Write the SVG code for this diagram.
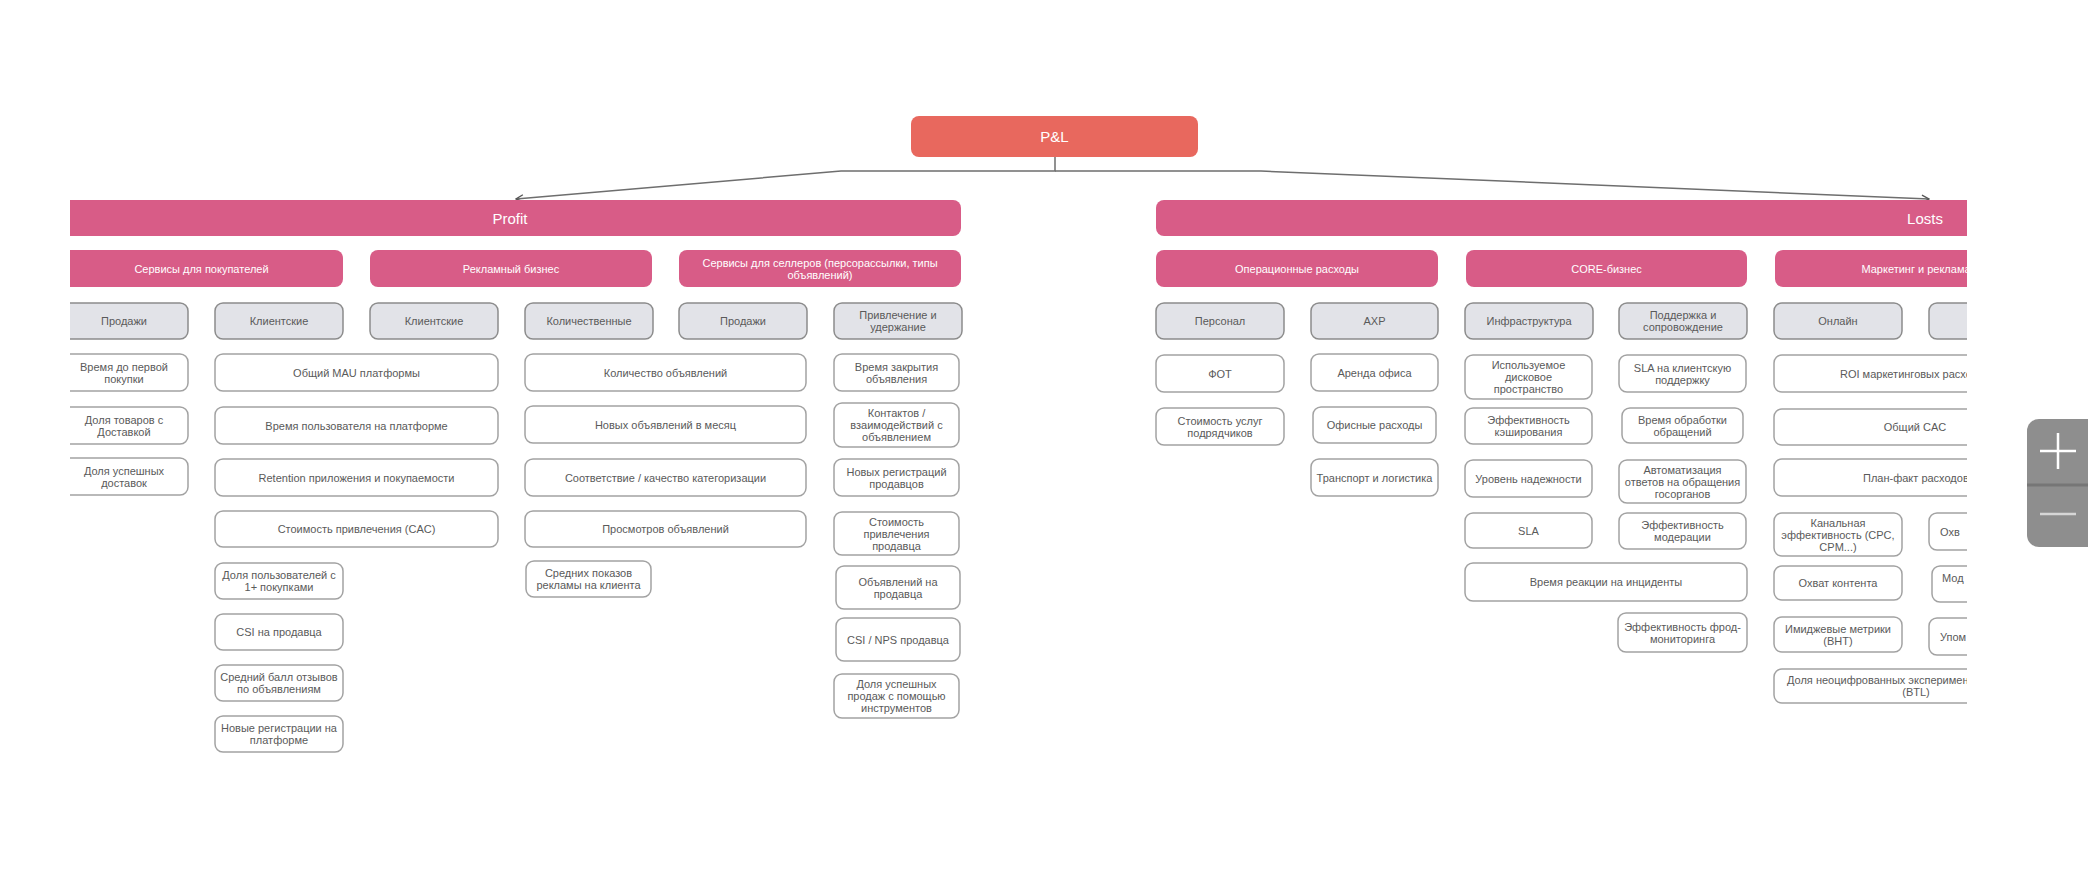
<svg xmlns="http://www.w3.org/2000/svg" width="2088" height="890" viewBox="0 0 2088 890">
  <defs>
    <style>
      .pl { fill: #E8685E; }
      .hdr { fill: #D85C87; }
      .cat { fill: #E2E3E8; stroke: #8C8C8C; stroke-width: 1.5; }
      .box { fill: #FFFFFF; stroke: #A2A2A2; stroke-width: 1.5; }
      text { font-family: "Liberation Sans", Arial, sans-serif; font-size: 11px; fill: #5A5A5A; text-anchor: middle; dominant-baseline: central; }
      .w { fill: #FFFFFF; }
      .big { font-size: 15px; }
      .s { text-anchor: start; }
      .link { fill: none; stroke: #6E6E6E; stroke-width: 1.5; }
    </style>
    <marker id="chev" viewBox="0 0 10 10" refX="9" refY="5" markerWidth="9" markerHeight="9" markerUnits="userSpaceOnUse" orient="auto">
      <path d="M1,1 L9,5 L1,9" fill="none" stroke="#555" stroke-width="1.5"/>
    </marker>
    <clipPath id="view">
      <rect x="70" y="0" width="1897" height="890"/>
    </clipPath>
  </defs>
  <rect width="2088" height="890" fill="#FFFFFF"/>

  <g clip-path="url(#view)">
    <!-- connectors -->
    <g id="connectors">
      <path class="link" d="M1055,157 V171 H841 L516,199" marker-end="url(#chev)"/>
      <path class="link" d="M1055,171 H1261 L1929,199" marker-end="url(#chev)"/>
    </g>

    <!-- root -->
    <g id="pl"><rect class="pl" x="911" y="116" width="287" height="41" rx="8"/><text class="w big" x="1054.5" y="136.5">P&amp;L</text></g>
    <g id="profit"><rect class="hdr" x="40" y="200" width="921" height="36" rx="8"/><text class="w big" x="510" y="218">Profit</text></g>
    <g id="losts"><rect class="hdr" x="1156" y="200" width="1000" height="36" rx="8"/><text class="w big" x="1925" y="218">Losts</text></g>

    <!-- section headers -->
    <g id="s-buyers"><rect class="hdr" x="40" y="250" width="303" height="37" rx="8"/><text class="w" x="201.5" y="268.5">Сервисы для покупателей</text></g>
    <g id="s-ads"><rect class="hdr" x="370" y="250" width="282" height="37" rx="8"/><text class="w" x="511" y="268.5">Рекламный бизнес</text></g>
    <g id="s-sellers"><rect class="hdr" x="679" y="250" width="282" height="37" rx="8"/><text class="w"><tspan x="820" y="262.5">Сервисы для селлеров (персорассылки, типы</tspan><tspan x="820" y="274.5">объявлений)</tspan></text></g>
    <g id="s-opex"><rect class="hdr" x="1156" y="250" width="282" height="37" rx="8"/><text class="w" x="1297" y="268.5">Операционные расходы</text></g>
    <g id="s-core"><rect class="hdr" x="1466" y="250" width="281" height="37" rx="8"/><text class="w" x="1606.5" y="268.5">CORE-бизнес</text></g>
    <g id="s-mkt"><rect class="hdr" x="1775" y="250" width="281" height="37" rx="8"/><text class="w" x="1916" y="268.5">Маркетинг и реклама</text></g>

    <!-- categories -->
    <g id="c-sales1"><rect class="cat" x="60" y="303" width="128" height="36" rx="8"/><text x="124" y="321">Продажи</text></g>
    <g id="c-clients1"><rect class="cat" x="215" y="303" width="128" height="36" rx="8"/><text x="279" y="321">Клиентские</text></g>
    <g id="c-clients2"><rect class="cat" x="370" y="303" width="128" height="36" rx="8"/><text x="434" y="321">Клиентские</text></g>
    <g id="c-quant"><rect class="cat" x="525" y="303" width="128" height="36" rx="8"/><text x="589" y="321">Количественные</text></g>
    <g id="c-sales2"><rect class="cat" x="679" y="303" width="128" height="36" rx="8"/><text x="743" y="321">Продажи</text></g>
    <g id="c-retain"><rect class="cat" x="834" y="303" width="128" height="36" rx="8"/><text><tspan x="898" y="315">Привлечение и</tspan><tspan x="898" y="327">удержание</tspan></text></g>
    <g id="c-staff"><rect class="cat" x="1156" y="303" width="128" height="36" rx="8"/><text x="1220" y="321">Персонал</text></g>
    <g id="c-ahr"><rect class="cat" x="1311" y="303" width="127" height="36" rx="8"/><text x="1374.5" y="321">АХР</text></g>
    <g id="c-infra"><rect class="cat" x="1465" y="303" width="128" height="36" rx="8"/><text x="1529" y="321">Инфраструктура</text></g>
    <g id="c-support"><rect class="cat" x="1619" y="303" width="128" height="36" rx="8"/><text><tspan x="1683" y="315">Поддержка и</tspan><tspan x="1683" y="327">сопровождение</tspan></text></g>
    <g id="c-online"><rect class="cat" x="1774" y="303" width="128" height="36" rx="8"/><text x="1838" y="321">Онлайн</text></g>
    <g id="c-offline"><rect class="cat" x="1929" y="303" width="128" height="36" rx="8"/></g>

    <!-- buyers: sales -->
    <g id="m-first-buy"><rect class="box" x="60" y="354" width="128" height="37" rx="8"/><text><tspan x="124" y="366.5">Время до первой</tspan><tspan x="124" y="378.5">покупки</tspan></text></g>
    <g id="m-delivery-share"><rect class="box" x="60" y="407" width="128" height="37" rx="8"/><text><tspan x="124" y="419.5">Доля товаров с</tspan><tspan x="124" y="431.5">Доставкой</tspan></text></g>
    <g id="m-delivery-ok"><rect class="box" x="60" y="458" width="128" height="37" rx="8"/><text><tspan x="124" y="470.5">Доля успешных</tspan><tspan x="124" y="482.5">доставок</tspan></text></g>

    <!-- buyers: clients -->
    <g id="m-mau"><rect class="box" x="215" y="354" width="283" height="37" rx="8"/><text x="356.5" y="372.5">Общий MAU платформы</text></g>
    <g id="m-time"><rect class="box" x="215" y="407" width="283" height="37" rx="8"/><text x="356.5" y="425.5">Время пользователя на платформе</text></g>
    <g id="m-retention"><rect class="box" x="215" y="459" width="283" height="37" rx="8"/><text x="356.5" y="477.5">Retention приложения и покупаемости</text></g>
    <g id="m-cac"><rect class="box" x="215" y="511" width="283" height="36" rx="8"/><text x="356.5" y="529">Стоимость привлечения (CAC)</text></g>
    <g id="m-buyers1"><rect class="box" x="215" y="563" width="128" height="36" rx="8"/><text><tspan x="279" y="575">Доля пользователей с</tspan><tspan x="279" y="587">1+ покупками</tspan></text></g>
    <g id="m-csi-seller"><rect class="box" x="215" y="614" width="128" height="36" rx="8"/><text x="279" y="632">CSI на продавца</text></g>
    <g id="m-reviews"><rect class="box" x="215" y="665" width="128" height="36" rx="8"/><text><tspan x="279" y="677">Средний балл отзывов</tspan><tspan x="279" y="689">по объявлениям</tspan></text></g>
    <g id="m-signups"><rect class="box" x="215" y="716" width="128" height="36" rx="8"/><text><tspan x="279" y="728">Новые регистрации на</tspan><tspan x="279" y="740">платформе</tspan></text></g>

    <!-- ads: quantitative -->
    <g id="m-ads-count"><rect class="box" x="525" y="354" width="281" height="37" rx="8"/><text x="665.5" y="372.5">Количество объявлений</text></g>
    <g id="m-ads-month"><rect class="box" x="525" y="406" width="281" height="37" rx="8"/><text x="665.5" y="424.5">Новых объявлений в месяц</text></g>
    <g id="m-categ"><rect class="box" x="525" y="459" width="281" height="37" rx="8"/><text x="665.5" y="477.5">Соответствие / качество категоризации</text></g>
    <g id="m-views"><rect class="box" x="525" y="511" width="281" height="36" rx="8"/><text x="665.5" y="529">Просмотров объявлений</text></g>
    <g id="m-impr"><rect class="box" x="526" y="561" width="125" height="36" rx="8"/><text><tspan x="588.5" y="573">Средних показов</tspan><tspan x="588.5" y="585">рекламы на клиента</tspan></text></g>

    <!-- sellers: acquisition and retention -->
    <g id="m-close-time"><rect class="box" x="834" y="354" width="125" height="37" rx="8"/><text><tspan x="896.5" y="366.5">Время закрытия</tspan><tspan x="896.5" y="378.5">объявления</tspan></text></g>
    <g id="m-contacts"><rect class="box" x="834" y="403" width="125" height="44" rx="8"/><text><tspan x="896.5" y="413">Контактов /</tspan><tspan x="896.5" y="425">взаимодействий с</tspan><tspan x="896.5" y="437">объявлением</tspan></text></g>
    <g id="m-seller-signups"><rect class="box" x="834" y="459" width="125" height="37" rx="8"/><text><tspan x="896.5" y="471.5">Новых регистраций</tspan><tspan x="896.5" y="483.5">продавцов</tspan></text></g>
    <g id="m-seller-cac"><rect class="box" x="834" y="512" width="125" height="43" rx="8"/><text><tspan x="896.5" y="521.5">Стоимость</tspan><tspan x="896.5" y="533.5">привлечения</tspan><tspan x="896.5" y="545.5">продавца</tspan></text></g>
    <g id="m-ads-per-seller"><rect class="box" x="836" y="566" width="124" height="43" rx="8"/><text><tspan x="898" y="581.5">Объявлений на</tspan><tspan x="898" y="593.5">продавца</tspan></text></g>
    <g id="m-nps"><rect class="box" x="836" y="618" width="124" height="43" rx="8"/><text x="898" y="639.5">CSI / NPS продавца</text></g>
    <g id="m-tools"><rect class="box" x="834" y="674" width="125" height="44" rx="8"/><text><tspan x="896.5" y="684">Доля успешных</tspan><tspan x="896.5" y="696">продаж с помощью</tspan><tspan x="896.5" y="708">инструментов</tspan></text></g>

    <!-- opex: staff -->
    <g id="m-payroll"><rect class="box" x="1156" y="355" width="128" height="37" rx="8"/><text x="1220" y="373.5">ФОТ</text></g>
    <g id="m-contractors"><rect class="box" x="1156" y="408" width="128" height="37" rx="8"/><text><tspan x="1220" y="420.5">Стоимость услуг</tspan><tspan x="1220" y="432.5">подрядчиков</tspan></text></g>

    <!-- opex: facilities -->
    <g id="m-rent"><rect class="box" x="1311" y="354" width="127" height="37" rx="8"/><text x="1374.5" y="372.5">Аренда офиса</text></g>
    <g id="m-office"><rect class="box" x="1313" y="407" width="123" height="36" rx="8"/><text x="1374.5" y="425">Офисные расходы</text></g>
    <g id="m-transport"><rect class="box" x="1311" y="459" width="127" height="37" rx="8"/><text x="1374.5" y="477.5">Транспорт и логистика</text></g>

    <!-- core: infrastructure -->
    <g id="m-disk"><rect class="box" x="1465" y="355" width="127" height="44" rx="8"/><text><tspan x="1528.5" y="365">Используемое</tspan><tspan x="1528.5" y="377">дисковое</tspan><tspan x="1528.5" y="389">пространство</tspan></text></g>
    <g id="m-cache"><rect class="box" x="1465" y="408" width="127" height="36" rx="8"/><text><tspan x="1528.5" y="420">Эффективность</tspan><tspan x="1528.5" y="432">кэширования</tspan></text></g>
    <g id="m-reliab"><rect class="box" x="1465" y="460" width="127" height="37" rx="8"/><text x="1528.5" y="478.5">Уровень надежности</text></g>
    <g id="m-sla"><rect class="box" x="1465" y="513" width="127" height="35" rx="8"/><text x="1528.5" y="530.5">SLA</text></g>
    <g id="m-incident"><rect class="box" x="1465" y="563" width="282" height="38" rx="8"/><text x="1606" y="582">Время реакции на инциденты</text></g>

    <!-- core: support -->
    <g id="m-sla-support"><rect class="box" x="1619" y="355" width="127" height="37" rx="8"/><text><tspan x="1682.5" y="367.5">SLA на клиентскую</tspan><tspan x="1682.5" y="379.5">поддержку</tspan></text></g>
    <g id="m-handling"><rect class="box" x="1622" y="408" width="121" height="35" rx="8"/><text><tspan x="1682.5" y="419.5">Время обработки</tspan><tspan x="1682.5" y="431.5">обращений</tspan></text></g>
    <g id="m-automation"><rect class="box" x="1619" y="460" width="127" height="43" rx="8"/><text><tspan x="1682.5" y="469.5">Автоматизация</tspan><tspan x="1682.5" y="481.5">ответов на обращения</tspan><tspan x="1682.5" y="493.5">госорганов</tspan></text></g>
    <g id="m-moderation"><rect class="box" x="1619" y="513" width="127" height="36" rx="8"/><text><tspan x="1682.5" y="525">Эффективность</tspan><tspan x="1682.5" y="537">модерации</tspan></text></g>
    <g id="m-fraud"><rect class="box" x="1618" y="613" width="129" height="39" rx="8"/><text><tspan x="1682.5" y="626.5">Эффективность фрод-</tspan><tspan x="1682.5" y="638.5">мониторинга</tspan></text></g>

    <!-- marketing: online -->
    <g id="m-roi"><rect class="box" x="1774" y="355" width="284" height="37" rx="8"/><text class="s" x="1840" y="373.5">ROI маркетинговых расходов</text></g>
    <g id="m-total-cac"><rect class="box" x="1774" y="409" width="284" height="36" rx="8"/><text x="1915" y="427">Общий CAC</text></g>
    <g id="m-planfact"><rect class="box" x="1774" y="459" width="284" height="37" rx="8"/><text class="s" x="1863" y="477.5">План-факт расходов</text></g>
    <g id="m-channel"><rect class="box" x="1774" y="513" width="128" height="43" rx="8"/><text><tspan x="1838" y="522.5">Канальная</tspan><tspan x="1838" y="534.5">эффективность (CPC,</tspan><tspan x="1838" y="546.5">CPM...)</tspan></text></g>
    <g id="m-reach"><rect class="box" x="1774" y="566" width="128" height="34" rx="8"/><text x="1838" y="583">Охват контента</text></g>
    <g id="m-bht"><rect class="box" x="1774" y="617" width="128" height="35" rx="8"/><text><tspan x="1838" y="628.5">Имиджевые метрики</tspan><tspan x="1838" y="640.5">(BHT)</tspan></text></g>
    <g id="m-btl"><rect class="box" x="1774" y="669" width="284" height="34" rx="8"/><text><tspan class="s" x="1787" y="680">Доля неоцифрованных экспериментов</tspan><tspan x="1916" y="692">(BTL)</tspan></text></g>

    <!-- marketing: next column -->
    <g id="m-off1"><rect class="box" x="1929" y="513" width="128" height="37" rx="8"/><text class="s" x="1940" y="531.5">Охв</text></g>
    <g id="m-off2"><rect class="box" x="1932" y="566" width="128" height="36" rx="8"/><text class="s" x="1942" y="578">Мод</text></g>
    <g id="m-off3"><rect class="box" x="1929" y="618" width="128" height="37" rx="8"/><text class="s" x="1940" y="636.5">Упом</text></g>
  </g>

  <!-- zoom control -->
  <g id="zoom-control">
    <rect x="2027" y="419" width="80" height="128" rx="12" fill="#8E8E8E"/>
    <line x1="2027" y1="485" x2="2088" y2="485" stroke="#767676" stroke-width="3"/>
    <line x1="2040" y1="451" x2="2076" y2="451" stroke="#FFFFFF" stroke-width="2.5"/>
    <line x1="2058" y1="433" x2="2058" y2="469" stroke="#FFFFFF" stroke-width="2.5"/>
    <line x1="2040" y1="514" x2="2076" y2="514" stroke="#D6D6D6" stroke-width="2.5"/>
  </g>
</svg>
